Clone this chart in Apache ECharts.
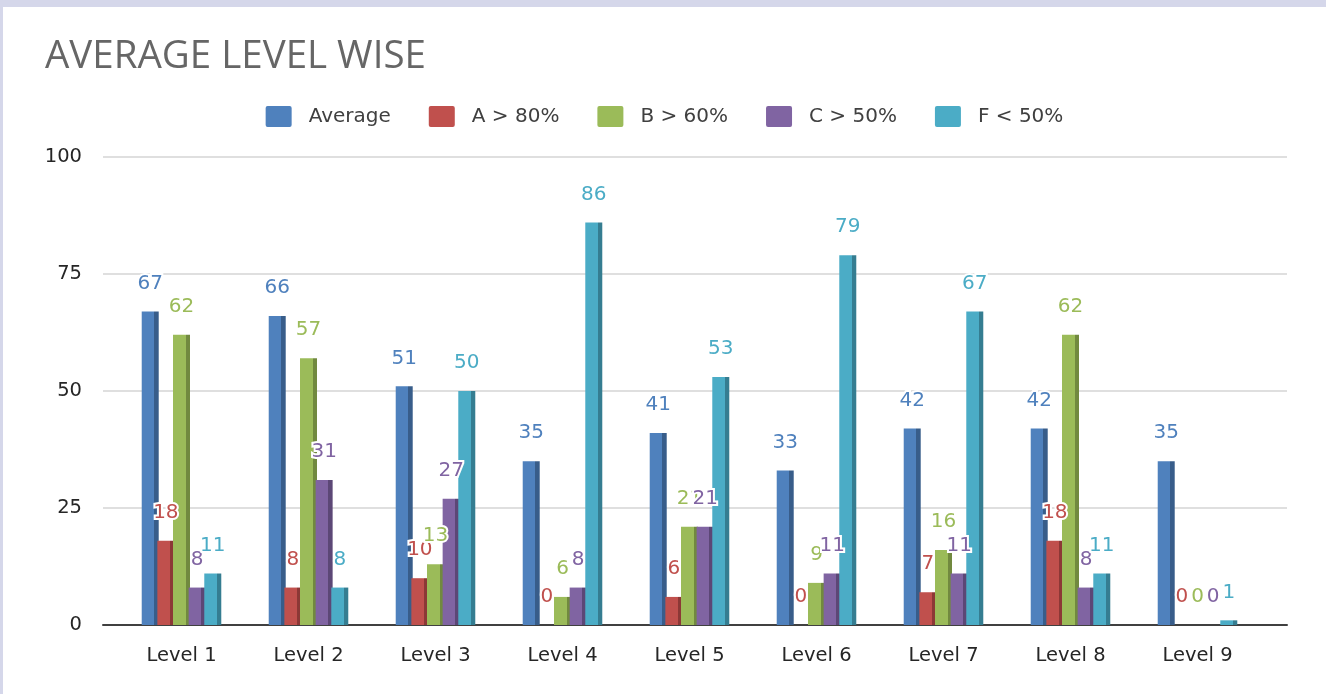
<!DOCTYPE html>
<html>
<head>
<meta charset="utf-8">
<script src="https://cdn.jsdelivr.net/npm/echarts@6/dist/echarts.min.js"></script>
<style>
  html, body { margin: 0; padding: 0; background: #d5d7ea; }
  #main { position: absolute; left: 3px; top: 7px; width: 1323px; height: 687px; background: #fff; }
</style>
</head>
<body>
<div id="main"></div>
<script>
const categories = ['Level 1', 'Level 2', 'Level 3', 'Level 4', 'Level 5', 'Level 6', 'Level 7', 'Level 8', 'Level 9'];
const seriesNames = ['Average', 'A > 80%', 'B > 60%', 'C > 50%', 'F < 50%'];
const average = [67, 66, 51, 35, 41, 33, 42, 42, 35];
const gradeA = [18, 8, 10, 0, 6, 0, 7, 18, 0];
const gradeB = [62, 57, 13, 6, 21, 9, 16, 62, 0];
const gradeC = [8, 31, 27, 8, 21, 11, 11, 8, 0];
const gradeF = [11, 8, 50, 86, 53, 79, 67, 11, 1];
const yTicks = [0, 25, 50, 75, 100];

const colors = ['#4f81bd', '#c0504d', '#9bbb59', '#8064a2', '#4bacc6'];
const darks = ['#385d8a', '#8c3836', '#71893f', '#5c4776', '#357d91'];
const values = [average, gradeA, gradeB, gradeC, gradeF];
const font = 'DejaVu Sans';

const chart = echarts.init(document.getElementById('main'));

// fake the 3d side face with a hard gradient stop
function barFill(i) {
  return new echarts.graphic.LinearGradient(0, 0, 1, 0, [
    { offset: 0, color: colors[i] },
    { offset: 0.74, color: colors[i] },
    { offset: 0.75, color: darks[i] },
    { offset: 1, color: darks[i] }
  ]);
}

const series = seriesNames.map((name, i) => ({
  name,
  type: 'bar',
  xAxisIndex: 1,
  yAxisIndex: 1,
  data: values[i],
  barWidth: 17,
  barGap: '-8%',
  itemStyle: { color: barFill(i) },
  label: {
    show: true,
    position: 'top',
    distance: 18,
    color: colors[i],
    fontSize: 20,
    fontFamily: font,
    textBorderColor: '#fff',
    textBorderWidth: 4
  }
}));

chart.setOption({
  animation: false,
  color: colors,
  title: {
    text: 'AVERAGE LEVEL WISE',
    left: 37,
    top: 26,
    textStyle: { color: '#666', fontSize: 38.5, fontWeight: 'normal', fontFamily: 'Open Sans' }
  },
  legend: {
    data: seriesNames.map((n, i) => ({ name: n, itemStyle: { color: colors[i] } })),
    left: 'center',
    top: 94,
    itemWidth: 26,
    itemHeight: 21,
    itemGap: 38,
    icon: 'path://M2,0H24Q26,0,26,2V19Q26,21,24,21H2Q0,21,0,19V2Q0,0,2,0Z',
    textStyle: { color: '#404040', fontSize: 20, fontFamily: font, padding: [0, 0, 0, 12] }
  },
  grid: [
    { left: 100, right: 39, top: 150, bottom: 69 },
    { left: 115, right: 65, top: 150, bottom: 69 }
  ],
  xAxis: [
    {
      gridIndex: 0, type: 'category', data: categories,
      axisLine: { lineStyle: { color: '#404040', width: 2 } },
      axisTick: { show: false }, axisLabel: { show: false }
    },
    {
      gridIndex: 1, type: 'category', data: categories,
      axisLine: { show: false }, axisTick: { show: false },
      axisLabel: { color: '#262626', fontSize: 19.5, fontFamily: font, margin: 21 }
    }
  ],
  yAxis: [
    {
      gridIndex: 0, type: 'value', min: yTicks[0], max: yTicks[yTicks.length - 1], interval: 25,
      axisLine: { show: false }, axisTick: { show: false },
      axisLabel: { color: '#262626', fontSize: 19.5, fontFamily: font, margin: 21 },
      splitLine: { lineStyle: { color: '#d4d4d4', width: 1.5 } }
    },
    {
      gridIndex: 1, type: 'value', min: 0, max: 100, interval: 25,
      axisLine: { show: false }, axisTick: { show: false },
      axisLabel: { show: false }, splitLine: { show: false }
    }
  ],
  series
});
</script>
</body>
</html>
